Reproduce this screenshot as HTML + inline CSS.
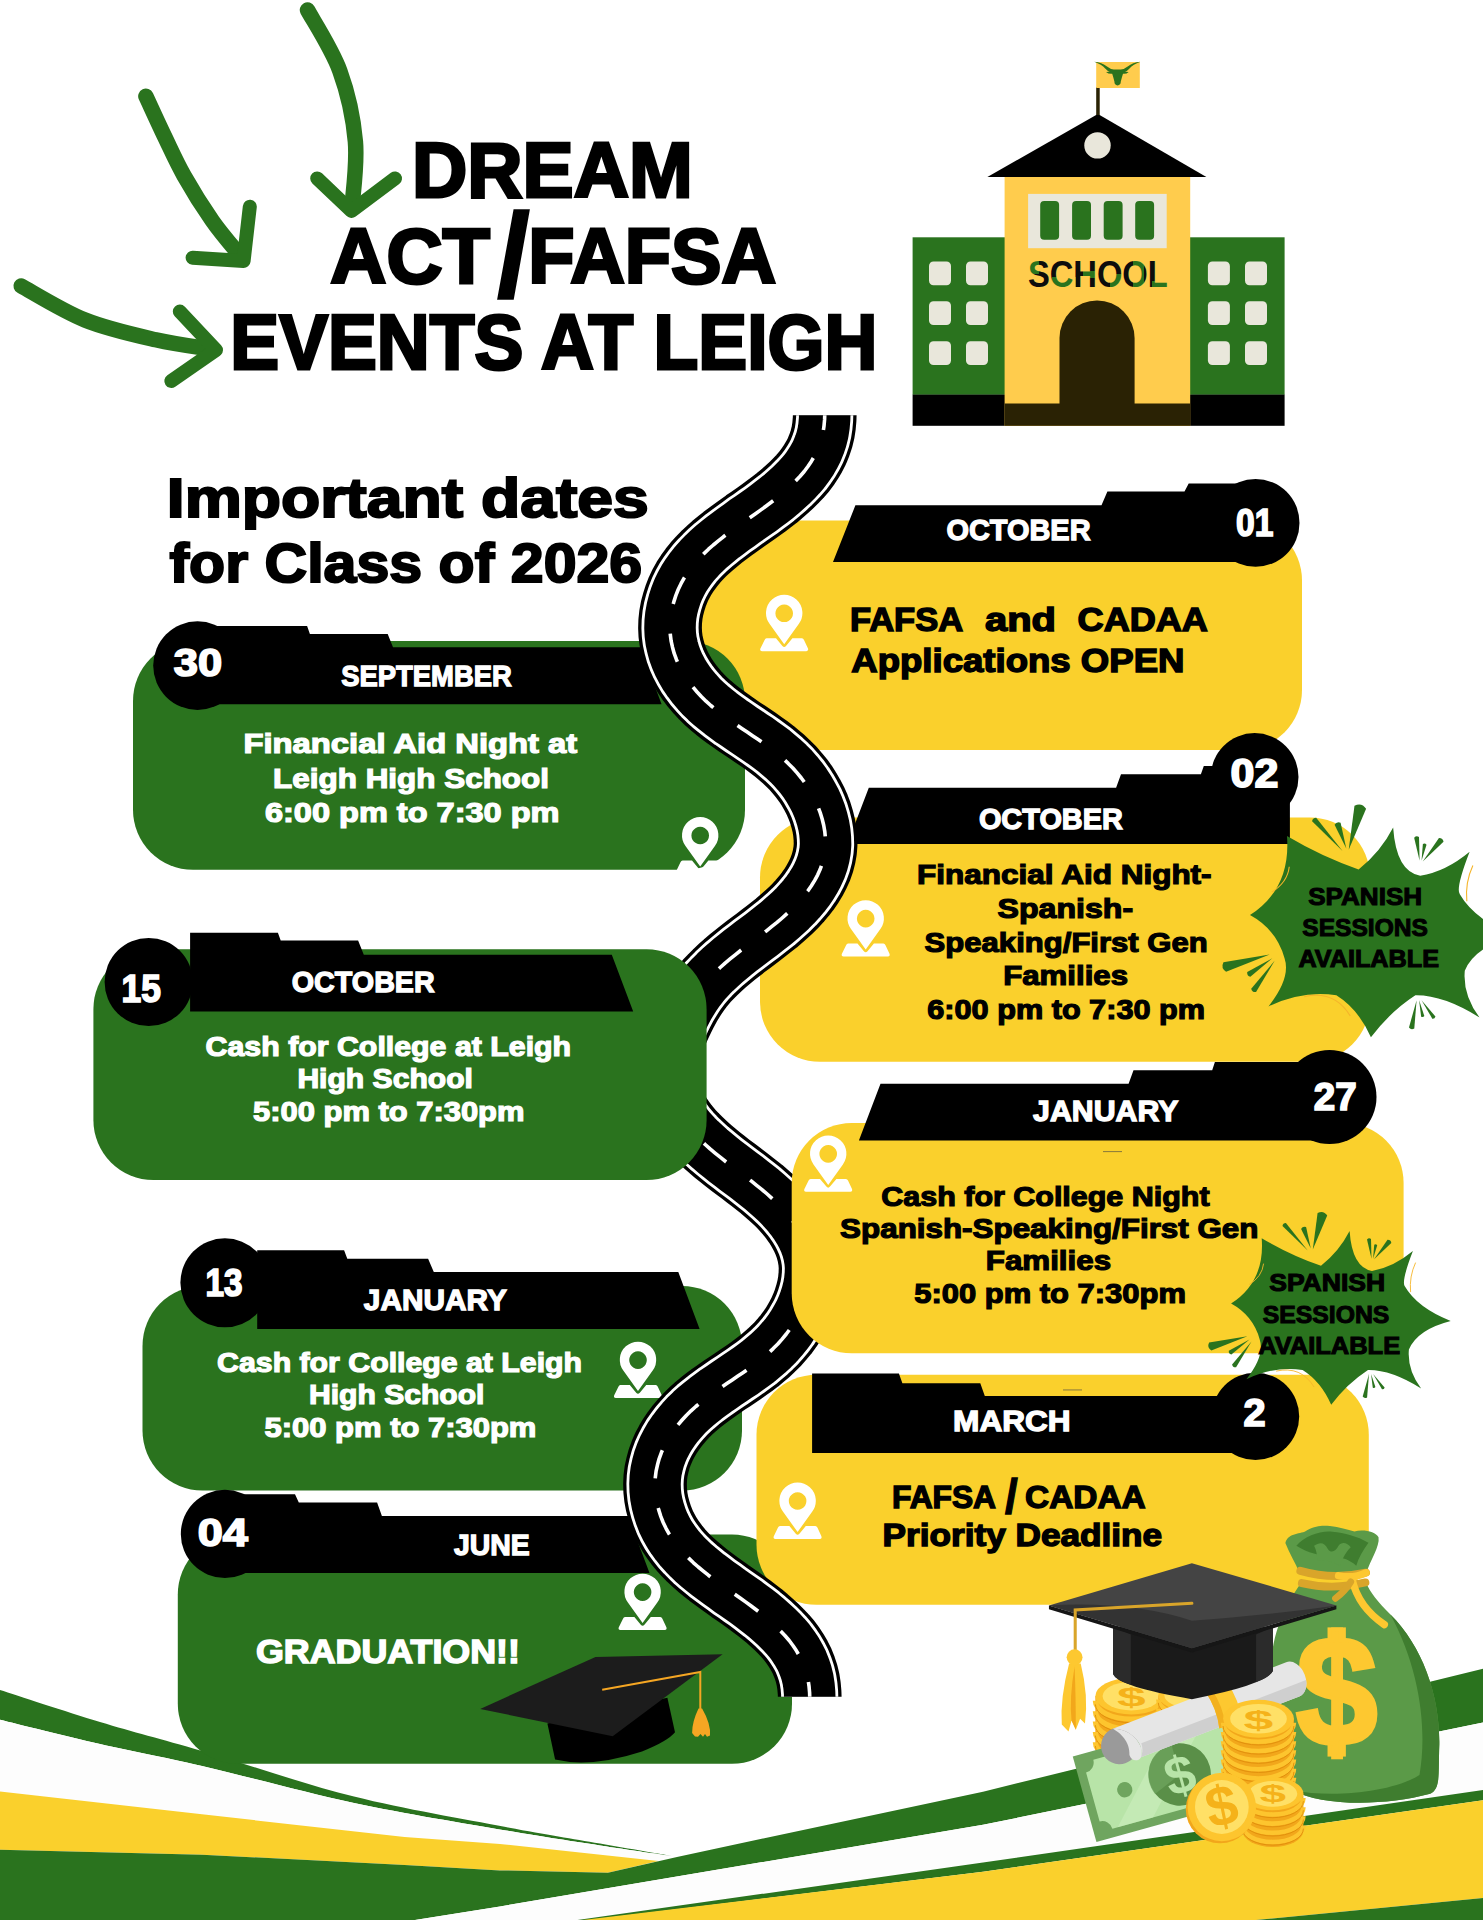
<!DOCTYPE html>
<html lang="en">
<head>
<meta charset="utf-8">
<title>Dream Act/FAFSA Events at Leigh</title>
<style>
html,body{margin:0;padding:0;background:#fff;}
body{width:1483px;height:1920px;overflow:hidden;}
svg{display:block;}
svg text{font-family:"Liberation Sans",sans-serif;}
</style>
</head>
<body>
<svg width="1483" height="1920" viewBox="0 0 1483 1920">
<defs>
<g id="pin" fill="#fff">
<path fill-rule="evenodd" d="M24.2,49.6 L38.9,29.1 A18.2,18.2 0 1 0 9.5,29.1 Z M24.2,9.8 a8.8,8.8 0 1 0 0.01,0 Z"/>
<path d="M6.6,43.6 L16,43.6 L22.4,51.3 Q24.2,53.4 26,51.3 L32.4,43.6 L41.9,43.6 Q43.3,43.7 44,45.2 L48,53.8 Q48.8,56.3 46.4,56.5 L2,56.5 Q-0.5,56.3 0.4,53.8 L4.6,45.2 Q5.2,43.7 6.6,43.6 Z"/>
</g>
<clipPath id="rclip"><rect x="560" y="415.2" width="400" height="700"/></clipPath>
<g id="road" fill="none" stroke-linejoin="round" clip-path="url(#rclip)">
<path d="M824.7,407.0 L824.8,412.5 L824.6,419.4 L824.0,426.1 L823.0,432.6 L821.5,438.8 L819.5,444.8 L817.2,450.6 L814.4,456.1 L811.3,461.4 L807.9,466.5 L804.2,471.5 L800.1,476.2 L795.8,480.8 L791.3,485.3 L786.6,489.6 L781.7,493.9 L776.7,498.0 L771.5,502.0 L766.2,506.0 L760.9,509.9 L755.5,513.7 L750.1,517.5 L744.6,521.3 L739.3,525.2 L733.9,529.0 L728.6,532.9 L723.4,536.8 L718.3,540.9 L713.3,545.0 L708.5,549.2 L703.9,553.6 L699.5,558.1 L695.2,562.8 L691.3,567.7 L687.6,572.8 L684.1,578.1 L681.0,583.7 L678.2,589.5 L675.8,595.6 L673.8,601.9 L672.1,608.3 L670.9,614.8 L670.2,621.4 L670.0,628.0 L670.3,634.5 L671.1,640.9 L672.5,647.2 L674.2,653.4 L676.4,659.4 L679.0,665.3 L682.0,671.0 L685.3,676.6 L689.0,681.9 L692.9,687.1 L697.1,692.0 L701.5,696.8 L706.0,701.2 L710.8,705.5 L715.7,709.6 L720.8,713.6 L725.9,717.4 L731.2,721.2 L736.5,724.8 L741.8,728.5 L747.2,732.1 L752.5,735.7 L757.9,739.3 L763.2,743.0 L768.4,746.8 L773.6,750.7 L778.6,754.8 L783.5,759.0 L788.2,763.4 L792.8,768.0 L797.1,772.9 L801.3,778.0 L805.2,783.3 L808.8,788.9 L812.1,794.6 L815.2,800.4 L817.9,806.5 L820.2,812.6 L822.1,818.8 L823.7,825.2 L824.8,831.6 L825.4,838.0 L825.6,844.4 L825.1,850.7 L824.0,857.0 L822.4,863.1 L820.3,869.0 L817.7,874.8 L814.7,880.4 L811.4,885.8 L807.8,891.0 L804.0,895.9 L799.9,900.7 L795.6,905.4 L791.1,909.9 L786.4,914.2 L781.6,918.5 L776.7,922.7 L771.6,926.7 L766.5,930.8 L761.3,934.8 L756.0,938.8 L750.8,942.7 L745.5,946.7 L740.3,950.7 L735.2,954.8 L730.1,958.9 L725.1,963.1 L720.2,967.5 L715.5,971.9 L711.0,976.4 L706.6,981.1 L702.5,986.0 L698.6,991.1 L695.0,996.3 L691.6,1001.7 L688.3,1007.3 L685.3,1013.0 L682.4,1018.8 L679.6,1024.7 L676.9,1030.5 L674.2,1036.4 L671.5,1042.3 L668.9,1048.1 L668.0,1050.0" stroke="#000" stroke-width="63.7"/>
<path d="M824.7,407.0 L824.8,412.5 L824.6,419.4 L824.0,426.1 L823.0,432.6 L821.5,438.8 L819.5,444.8 L817.2,450.6 L814.4,456.1 L811.3,461.4 L807.9,466.5 L804.2,471.5 L800.1,476.2 L795.8,480.8 L791.3,485.3 L786.6,489.6 L781.7,493.9 L776.7,498.0 L771.5,502.0 L766.2,506.0 L760.9,509.9 L755.5,513.7 L750.1,517.5 L744.6,521.3 L739.3,525.2 L733.9,529.0 L728.6,532.9 L723.4,536.8 L718.3,540.9 L713.3,545.0 L708.5,549.2 L703.9,553.6 L699.5,558.1 L695.2,562.8 L691.3,567.7 L687.6,572.8 L684.1,578.1 L681.0,583.7 L678.2,589.5 L675.8,595.6 L673.8,601.9 L672.1,608.3 L670.9,614.8 L670.2,621.4 L670.0,628.0 L670.3,634.5 L671.1,640.9 L672.5,647.2 L674.2,653.4 L676.4,659.4 L679.0,665.3 L682.0,671.0 L685.3,676.6 L689.0,681.9 L692.9,687.1 L697.1,692.0 L701.5,696.8 L706.0,701.2 L710.8,705.5 L715.7,709.6 L720.8,713.6 L725.9,717.4 L731.2,721.2 L736.5,724.8 L741.8,728.5 L747.2,732.1 L752.5,735.7 L757.9,739.3 L763.2,743.0 L768.4,746.8 L773.6,750.7 L778.6,754.8 L783.5,759.0 L788.2,763.4 L792.8,768.0 L797.1,772.9 L801.3,778.0 L805.2,783.3 L808.8,788.9 L812.1,794.6 L815.2,800.4 L817.9,806.5 L820.2,812.6 L822.1,818.8 L823.7,825.2 L824.8,831.6 L825.4,838.0 L825.6,844.4 L825.1,850.7 L824.0,857.0 L822.4,863.1 L820.3,869.0 L817.7,874.8 L814.7,880.4 L811.4,885.8 L807.8,891.0 L804.0,895.9 L799.9,900.7 L795.6,905.4 L791.1,909.9 L786.4,914.2 L781.6,918.5 L776.7,922.7 L771.6,926.7 L766.5,930.8 L761.3,934.8 L756.0,938.8 L750.8,942.7 L745.5,946.7 L740.3,950.7 L735.2,954.8 L730.1,958.9 L725.1,963.1 L720.2,967.5 L715.5,971.9 L711.0,976.4 L706.6,981.1 L702.5,986.0 L698.6,991.1 L695.0,996.3 L691.6,1001.7 L688.3,1007.3 L685.3,1013.0 L682.4,1018.8 L679.6,1024.7 L676.9,1030.5 L674.2,1036.4 L671.5,1042.3 L668.9,1048.1 L668.0,1050.0" stroke="#fff" stroke-width="57.1"/>
<path d="M824.7,407.0 L824.8,412.5 L824.6,419.4 L824.0,426.1 L823.0,432.6 L821.5,438.8 L819.5,444.8 L817.2,450.6 L814.4,456.1 L811.3,461.4 L807.9,466.5 L804.2,471.5 L800.1,476.2 L795.8,480.8 L791.3,485.3 L786.6,489.6 L781.7,493.9 L776.7,498.0 L771.5,502.0 L766.2,506.0 L760.9,509.9 L755.5,513.7 L750.1,517.5 L744.6,521.3 L739.3,525.2 L733.9,529.0 L728.6,532.9 L723.4,536.8 L718.3,540.9 L713.3,545.0 L708.5,549.2 L703.9,553.6 L699.5,558.1 L695.2,562.8 L691.3,567.7 L687.6,572.8 L684.1,578.1 L681.0,583.7 L678.2,589.5 L675.8,595.6 L673.8,601.9 L672.1,608.3 L670.9,614.8 L670.2,621.4 L670.0,628.0 L670.3,634.5 L671.1,640.9 L672.5,647.2 L674.2,653.4 L676.4,659.4 L679.0,665.3 L682.0,671.0 L685.3,676.6 L689.0,681.9 L692.9,687.1 L697.1,692.0 L701.5,696.8 L706.0,701.2 L710.8,705.5 L715.7,709.6 L720.8,713.6 L725.9,717.4 L731.2,721.2 L736.5,724.8 L741.8,728.5 L747.2,732.1 L752.5,735.7 L757.9,739.3 L763.2,743.0 L768.4,746.8 L773.6,750.7 L778.6,754.8 L783.5,759.0 L788.2,763.4 L792.8,768.0 L797.1,772.9 L801.3,778.0 L805.2,783.3 L808.8,788.9 L812.1,794.6 L815.2,800.4 L817.9,806.5 L820.2,812.6 L822.1,818.8 L823.7,825.2 L824.8,831.6 L825.4,838.0 L825.6,844.4 L825.1,850.7 L824.0,857.0 L822.4,863.1 L820.3,869.0 L817.7,874.8 L814.7,880.4 L811.4,885.8 L807.8,891.0 L804.0,895.9 L799.9,900.7 L795.6,905.4 L791.1,909.9 L786.4,914.2 L781.6,918.5 L776.7,922.7 L771.6,926.7 L766.5,930.8 L761.3,934.8 L756.0,938.8 L750.8,942.7 L745.5,946.7 L740.3,950.7 L735.2,954.8 L730.1,958.9 L725.1,963.1 L720.2,967.5 L715.5,971.9 L711.0,976.4 L706.6,981.1 L702.5,986.0 L698.6,991.1 L695.0,996.3 L691.6,1001.7 L688.3,1007.3 L685.3,1013.0 L682.4,1018.8 L679.6,1024.7 L676.9,1030.5 L674.2,1036.4 L671.5,1042.3 L668.9,1048.1 L668.0,1050.0" stroke="#000" stroke-width="51.5"/>
<path d="M824.7,407.0 L824.8,412.5 L824.6,419.4 L824.0,426.1 L823.0,432.6 L821.5,438.8 L819.5,444.8 L817.2,450.6 L814.4,456.1 L811.3,461.4 L807.9,466.5 L804.2,471.5 L800.1,476.2 L795.8,480.8 L791.3,485.3 L786.6,489.6 L781.7,493.9 L776.7,498.0 L771.5,502.0 L766.2,506.0 L760.9,509.9 L755.5,513.7 L750.1,517.5 L744.6,521.3 L739.3,525.2 L733.9,529.0 L728.6,532.9 L723.4,536.8 L718.3,540.9 L713.3,545.0 L708.5,549.2 L703.9,553.6 L699.5,558.1 L695.2,562.8 L691.3,567.7 L687.6,572.8 L684.1,578.1 L681.0,583.7 L678.2,589.5 L675.8,595.6 L673.8,601.9 L672.1,608.3 L670.9,614.8 L670.2,621.4 L670.0,628.0 L670.3,634.5 L671.1,640.9 L672.5,647.2 L674.2,653.4 L676.4,659.4 L679.0,665.3 L682.0,671.0 L685.3,676.6 L689.0,681.9 L692.9,687.1 L697.1,692.0 L701.5,696.8 L706.0,701.2 L710.8,705.5 L715.7,709.6 L720.8,713.6 L725.9,717.4 L731.2,721.2 L736.5,724.8 L741.8,728.5 L747.2,732.1 L752.5,735.7 L757.9,739.3 L763.2,743.0 L768.4,746.8 L773.6,750.7 L778.6,754.8 L783.5,759.0 L788.2,763.4 L792.8,768.0 L797.1,772.9 L801.3,778.0 L805.2,783.3 L808.8,788.9 L812.1,794.6 L815.2,800.4 L817.9,806.5 L820.2,812.6 L822.1,818.8 L823.7,825.2 L824.8,831.6 L825.4,838.0 L825.6,844.4 L825.1,850.7 L824.0,857.0 L822.4,863.1 L820.3,869.0 L817.7,874.8 L814.7,880.4 L811.4,885.8 L807.8,891.0 L804.0,895.9 L799.9,900.7 L795.6,905.4 L791.1,909.9 L786.4,914.2 L781.6,918.5 L776.7,922.7 L771.6,926.7 L766.5,930.8 L761.3,934.8 L756.0,938.8 L750.8,942.7 L745.5,946.7 L740.3,950.7 L735.2,954.8 L730.1,958.9 L725.1,963.1 L720.2,967.5 L715.5,971.9 L711.0,976.4 L706.6,981.1 L702.5,986.0 L698.6,991.1 L695.0,996.3 L691.6,1001.7 L688.3,1007.3 L685.3,1013.0 L682.4,1018.8 L679.6,1024.7 L676.9,1030.5 L674.2,1036.4 L671.5,1042.3 L668.9,1048.1 L668.0,1050.0" stroke="#fff" stroke-width="3.6" stroke-dasharray="29 30" stroke-dashoffset="6"/>
</g>
<g id="star">
<path fill="#2a731e" d="M0,0 Q34,-22 30.6,-65.4 Q60,-48 89.9,-37.8 Q108,-52 118.5,-72.5 Q121,-36 140.9,-32.6 Q162,-36 181.8,-52.5 Q170,-22 173.7,-17.3 Q186,4 219.6,17.4 Q186,26 177.8,46 Q176,66 190,84.8 Q160,66 136.9,66.4 Q116,80 100.1,101.2 Q90,78 71.5,66.4 Q44,62 15.3,75.6 Q34,52 28.6,35.8 Q22,12 0,0 Z"/>
<g fill="#2a731e"><path d="M76.6,-53.1 L54.8,-80.6 Q51.7,-80.6 51.4,-77.6 Z"/><path d="M79.7,-55.1 L75.0,-76.5 Q71.7,-77.8 70.0,-74.7 Z"/><path d="M81.7,-54.1 L96.1,-88.0 Q92.5,-93.6 86.5,-90.6 Z"/><path d="M140.4,-44.9 L139.9,-64.6 Q137.7,-66.1 135.9,-64.0 Z"/><path d="M142.0,-44.9 L146.1,-58.3 Q144.9,-59.9 143.1,-58.9 Z"/><path d="M143.0,-44.3 L160.2,-60.7 Q159.8,-64.0 156.4,-63.9 Z"/><path d="M16.3,32.7 L-22.0,39.0 Q-24.4,43.9 -19.8,46.8 Z"/><path d="M18.4,35.8 L-2.3,47.2 Q-2.7,50.3 0.3,51.0 Z"/><path d="M20.4,37.8 L1.0,60.9 Q1.7,64.1 5.0,63.7 Z"/><path d="M137.9,70.5 L131.6,93.0 Q133.4,95.4 136.0,93.8 Z"/><path d="M140.0,70.5 L141.7,84.1 Q143.3,84.9 144.3,83.5 Z"/><path d="M142.0,70.5 L150.9,85.7 Q153.0,86.0 153.5,83.9 Z"/></g>
<g fill="none" stroke="#f5b52a" stroke-width="0.9">
<path d="M32.500,-40 Q31,-27 18,-19"/>
<path d="M184.500,-41 Q178,-27 179.500,-11.500"/>
<path d="M45,67.5 Q70,62 83,83.500"/>
</g>
</g>
</defs>
<path fill="#2a731e" d="M0.0,1690.0 C16.7,1695.3 66.3,1711.8 100.0,1722.0 C133.7,1732.2 159.7,1738.6 202.0,1751.0 C244.3,1763.4 303.4,1783.9 354.0,1796.6 C404.6,1809.3 464.8,1819.2 505.8,1827.0 C546.8,1834.8 571.5,1838.5 600.0,1843.5 C628.5,1848.5 664.2,1854.7 677.0,1856.9 L677.0,1856.9 C664.2,1855.0 628.5,1849.9 600.0,1845.5 C571.5,1841.1 547.0,1837.6 506.0,1830.5 C465.0,1823.4 404.7,1813.8 354.0,1803.0 C303.3,1792.2 244.3,1775.8 202.0,1766.0 C159.7,1756.2 133.7,1751.7 100.0,1744.0 C66.3,1736.3 16.7,1723.8 0.0,1719.7 Z"/>
<path fill="#fdfdfd" d="M0.0,1719.7 C16.7,1723.8 66.3,1736.3 100.0,1744.0 C133.7,1751.7 159.7,1756.2 202.0,1766.0 C244.3,1775.8 303.3,1792.2 354.0,1803.0 C404.7,1813.8 465.0,1823.4 506.0,1830.5 C547.0,1837.6 571.5,1841.1 600.0,1845.5 C628.5,1849.9 664.2,1855.0 677.0,1856.9 L658.5,1861 L500,1844 L404.6,1837 L202,1814.3 L0,1791.5 Z"/>
<path fill="#fad02c" d="M0,1791.5 L202,1814.3 L404.6,1837 L500,1844 L658.5,1861 L607.9,1872.7 L500,1870.4 L404.6,1864.9 L202,1854.7 L0,1849.7 Z"/>
<path fill="#2a731e" d="M0,1849.7 L202,1854.7 L404.6,1864.9 L500,1870.4 L607.9,1872.7 L677,1856.9 L983,1791.7 L1483,1668.7 L1483,1722.6 L983,1824.8 L736,1866.6 L500,1906.4 L415,1920 L0,1920 Z"/>
<path fill="#fdfdfd" d="M415,1920 L500,1906.4 L736,1866.6 L983,1824.8 L1483,1722.6 L1483,1790 L983,1862.6 L577.5,1920 Z"/>
<path fill="#2a731e" d="M577.5,1920 L983,1862.6 L1483,1790 L1483,1800.2 L983,1871.7 L590,1920 Z"/>
<path fill="#fad02c" d="M583,1920 L983,1871.7 L1483,1800.2 L1483,1898 L1256,1920 Z"/>
<path fill="#2a731e" d="M1256,1920 L1483,1898 L1483,1920 Z"/>
<g fill="none" stroke="#2a731e" stroke-width="15.5" stroke-linecap="round" stroke-linejoin="round">
<path d="M307.5,10.0 C312.9,20.1 331.8,48.9 339.8,70.8 C347.8,92.7 353.4,118.9 355.4,141.6 C357.4,164.3 352.6,196.1 352.0,207.0"/>
<path stroke-width="14" d="M317.2,178.4 L351.5,211 L395,178.4"/>
<path d="M145.9,96.3 C149.0,102.9 158.0,122.7 164.3,135.9 C170.7,149.1 176.0,161.4 184.0,175.6 C192.0,189.8 203.0,207.4 212.4,220.9 C221.8,234.4 236.0,250.4 240.7,256.3"/>
<path stroke-width="14" d="M192.6,257.7 L243.6,261 L249.8,206.7"/>
<path d="M21.2,286.0 C31.8,291.7 62.6,311.0 85.0,320.0 C107.4,329.0 134.5,334.9 155.8,339.8 C177.1,344.7 203.5,347.9 213.0,349.5"/>
<path stroke-width="14" d="M179.8,311.5 L216,350 L171.3,380.9"/>
</g>
<g font-weight="bold">
<text x="412.0" y="196.6" font-size="77.8" fill="#000" stroke="#000" stroke-width="3" textLength="280.8" lengthAdjust="spacingAndGlyphs" >DREAM</text>
<text fill="#000" stroke="#000"><tspan x="330.3" y="282.9" font-size="77.8" stroke-width="3" textLength="159.6" lengthAdjust="spacingAndGlyphs">ACT</tspan><tspan x="498.1" y="296.2" font-size="117.4" stroke-width="3.5" textLength="31.0" lengthAdjust="spacingAndGlyphs">/</tspan><tspan x="528.2" y="282.9" font-size="77.8" stroke-width="3" textLength="248.0" lengthAdjust="spacingAndGlyphs">FAFSA</tspan></text>
<text x="230.3" y="369.1" font-size="77.8" fill="#000" stroke="#000" stroke-width="3" textLength="647.1" lengthAdjust="spacingAndGlyphs" >EVENTS AT LEIGH</text>
<text x="166.8" y="516.9" font-size="54.7" fill="#000" stroke="#000" stroke-width="2" textLength="482.0" lengthAdjust="spacingAndGlyphs" >Important dates</text>
<text x="169.4" y="581.5" font-size="54.7" fill="#000" stroke="#000" stroke-width="2" textLength="472.8" lengthAdjust="spacingAndGlyphs" >for Class of 2026</text>
</g>
<g font-weight="bold"><rect x="912.6" y="237.3" width="372" height="157.500" fill="#2a731e"/>
<rect x="912.6" y="394.600" width="372" height="31.200" fill="#000"/>
<rect x="1004.6" y="176" width="185.6" height="250" fill="#ffcc4d"/>
<rect x="1004.6" y="403.500" width="185.6" height="22.300" fill="#2a2204"/>
<path d="M1059.500,404 L1059.500,338 A37.5,37.5 0 0 1 1134.600,338 L1134.600,404 Z" fill="#2a2204"/>
<polygon points="987.4,177 1097.9,114 1206.4,177" fill="#000"/>
<circle cx="1097.5" cy="145.400" r="13.2" fill="#e9e7db"/>
<rect x="1096.2" y="87" width="3.5" height="28" fill="#2a2204"/>
<rect x="1096.2" y="62" width="43.6" height="26" fill="#ffcc4d"/>
<path fill="#2a731e" d="M1094.2,61.8 Q1102,62.5 1107,66.5 Q1110.5,69.3 1113.8,69.5 L1120.9,69.5 Q1124.2,69.3 1127.7,66.5 Q1132.7,62.5 1140.4,61.8 Q1133,64.5 1129.5,68.5 Q1127,71.3 1125,71.8 L1128.7,72 Q1126.5,74.2 1123,73.8 L1122,77 L1120.8,81.5 Q1120.8,85.2 1117.6,85.4 Q1114.4,85.2 1114.4,81.5 L1113.2,77 L1112.2,73.8 Q1108.700,74.2 1106,72 L1109.700,71.8 Q1107.700,71.3 1105.2,68.5 Q1101.700,64.5 1094.2,61.8 Z"/>
<rect x="1028.1" y="193.900" width="138.6" height="54.300" fill="#e9e7db"/>
<rect x="1040.2" y="201" width="18.9" height="38.800" rx="4" fill="#2a731e"/>
<rect x="1072.1" y="201" width="18.9" height="38.800" rx="4" fill="#2a731e"/>
<rect x="1103.7" y="201" width="18.9" height="38.800" rx="4" fill="#2a731e"/>
<rect x="1135.2" y="201" width="18.9" height="38.800" rx="4" fill="#2a731e"/>
<rect x="929" y="261.5" width="22" height="23.800" rx="4.5" fill="#e9e7db"/>
<rect x="929" y="301.3" width="22" height="23.800" rx="4.5" fill="#e9e7db"/>
<rect x="929" y="341.2" width="22" height="23.800" rx="4.5" fill="#e9e7db"/>
<rect x="966" y="261.5" width="22" height="23.800" rx="4.5" fill="#e9e7db"/>
<rect x="966" y="301.3" width="22" height="23.800" rx="4.5" fill="#e9e7db"/>
<rect x="966" y="341.2" width="22" height="23.800" rx="4.5" fill="#e9e7db"/>
<rect x="1207.9" y="261.5" width="22" height="23.800" rx="4.5" fill="#e9e7db"/>
<rect x="1207.9" y="301.3" width="22" height="23.800" rx="4.5" fill="#e9e7db"/>
<rect x="1207.9" y="341.2" width="22" height="23.800" rx="4.5" fill="#e9e7db"/>
<rect x="1245" y="261.5" width="22" height="23.800" rx="4.5" fill="#e9e7db"/>
<rect x="1245" y="301.3" width="22" height="23.800" rx="4.5" fill="#e9e7db"/>
<rect x="1245" y="341.2" width="22" height="23.800" rx="4.5" fill="#e9e7db"/>
<pattern id="schp" patternUnits="userSpaceOnUse" x="1020" y="255" width="160" height="40"><rect width="160" height="40" fill="#0d0d0d"/><g fill="#2a731e"><rect x="7" y="6" width="12" height="13"/><rect x="32" y="22" width="24" height="12"/><rect x="63" y="16" width="14" height="7"/><rect x="90" y="19" width="12" height="15"/><rect x="113" y="6" width="11" height="28"/><rect x="132" y="26" width="16" height="8"/></g></pattern>
<text x="1027.9" y="287.2" font-size="36.2" fill="url(#schp)" textLength="139.9" lengthAdjust="spacingAndGlyphs" >SCHOOL</text></g>
<g font-weight="bold">
<rect x="700.0" y="520.4" width="602.0" height="229.6" rx="60" ry="60" fill="#fad02c"/>
<polygon points="833.0,562.1 855.4,505.3 1101.5,505.3 1107.4,491.6 1184.5,491.6 1188.7,483.4 1256.0,483.4 1256.0,562.1" fill="#000"/>
<circle cx="1255.6" cy="522.9" r="43.9" fill="#000"/>
<text x="946.4" y="540.0" font-size="30.1" fill="#fff" stroke="#fff" stroke-width="1.32" textLength="144.2" lengthAdjust="spacingAndGlyphs" >OCTOBER</text>
<text x="1236.0" y="535.5" font-size="39.5" fill="#fff" stroke="#fff" stroke-width="1.73" textLength="37.3" lengthAdjust="spacingAndGlyphs" >01</text>
<use href="#pin" transform="translate(760.0,594.7) scale(1.0)"/>
<text fill="#000" stroke="#000"><tspan x="850.0" y="631.2" font-size="32.9" stroke-width="1.45" textLength="121.4" lengthAdjust="spacingAndGlyphs">FAFSA </tspan><tspan x="985.0" y="631.2" font-size="32.9" stroke-width="1.45" textLength="82.1" lengthAdjust="spacingAndGlyphs">and </tspan><tspan x="1077.6" y="631.2" font-size="32.9" stroke-width="1.45" textLength="130.3" lengthAdjust="spacingAndGlyphs">CADAA</tspan></text>
<text x="851.3" y="671.8" font-size="32.9" fill="#000" stroke="#000" stroke-width="1.45" textLength="333.2" lengthAdjust="spacingAndGlyphs" >Applications OPEN</text>
<rect x="133.0" y="641.0" width="612.0" height="228.7" rx="60" ry="60" fill="#2a731e"/>
<polygon points="197.5,625.9 307.1,625.9 309.9,634.0 387.7,634.0 393.0,647.2 640.2,647.2 661.6,704.2 197.5,704.2" fill="#000"/>
<circle cx="197.5" cy="665.6" r="44.3" fill="#000"/>
<text x="173.8" y="675.6" font-size="39.1" fill="#fff" stroke="#fff" stroke-width="1.72" textLength="48.4" lengthAdjust="spacingAndGlyphs" >30</text>
<text x="341.2" y="685.6" font-size="30.1" fill="#fff" stroke="#fff" stroke-width="1.32" textLength="170.6" lengthAdjust="spacingAndGlyphs" >SEPTEMBER</text>
<text x="243.5" y="752.6" font-size="28.3" fill="#fff" stroke="#fff" stroke-width="1.24" textLength="333.7" lengthAdjust="spacingAndGlyphs" >Financial Aid Night at</text>
<text x="273.1" y="787.6" font-size="28.3" fill="#fff" stroke="#fff" stroke-width="1.24" textLength="275.9" lengthAdjust="spacingAndGlyphs" >Leigh High School</text>
<text x="264.9" y="822.4" font-size="28.3" fill="#fff" stroke="#fff" stroke-width="1.24" textLength="294.6" lengthAdjust="spacingAndGlyphs" >6:00 pm to 7:30 pm</text>
<use href="#pin" transform="translate(676.0,816.9) scale(1.0)"/>
<rect x="760.0" y="817.5" width="610.0" height="244.3" rx="60" ry="60" fill="#fad02c"/>
<polygon points="847.3,844.0 868.8,787.8 1116.1,787.8 1121.0,774.3 1200.9,774.3 1203.8,766.0 1254.6,766.0 1289.9,790.0 1289.9,844.0" fill="#000"/>
<circle cx="1254.6" cy="777.0" r="43.9" fill="#000"/>
<text x="978.9" y="828.9" font-size="29.8" fill="#fff" stroke="#fff" stroke-width="1.31" textLength="144.0" lengthAdjust="spacingAndGlyphs" >OCTOBER</text>
<text x="1230.5" y="787.0" font-size="39.9" fill="#fff" stroke="#fff" stroke-width="1.75" textLength="47.8" lengthAdjust="spacingAndGlyphs" >02</text>
<use href="#pin" transform="translate(841.5,900.0) scale(1.0)"/>
<text x="917.1" y="884.4" font-size="28.3" fill="#000" stroke="#000" stroke-width="1.24" textLength="294.5" lengthAdjust="spacingAndGlyphs" >Financial Aid Night-</text>
<text x="997.6" y="917.9" font-size="28.3" fill="#000" stroke="#000" stroke-width="1.24" textLength="135.5" lengthAdjust="spacingAndGlyphs" >Spanish-</text>
<text x="924.6" y="951.8" font-size="28.3" fill="#000" stroke="#000" stroke-width="1.24" textLength="283.2" lengthAdjust="spacingAndGlyphs" >Speaking/First Gen</text>
<text x="1003.2" y="985.1" font-size="28.3" fill="#000" stroke="#000" stroke-width="1.24" textLength="124.9" lengthAdjust="spacingAndGlyphs" >Families</text>
<text x="927.3" y="1019.0" font-size="28.3" fill="#000" stroke="#000" stroke-width="1.24" textLength="277.7" lengthAdjust="spacingAndGlyphs" >6:00 pm to 7:30 pm</text>
<use href="#road"/>
<rect x="142.5" y="1285.9" width="599.5" height="204.7" rx="60" ry="60" fill="#2a731e"/>
<polygon points="257.2,1250.2 344.1,1250.2 347.3,1258.7 428.1,1258.7 433.8,1271.9 678.3,1271.9 699.6,1329.1 257.2,1329.1" fill="#000"/>
<circle cx="224.9" cy="1282.8" r="44.5" fill="#000"/>
<text x="205.5" y="1296.1" font-size="39.5" fill="#fff" stroke="#fff" stroke-width="1.73" textLength="37.0" lengthAdjust="spacingAndGlyphs" >13</text>
<text x="363.8" y="1309.6" font-size="30.1" fill="#fff" stroke="#fff" stroke-width="1.32" textLength="143.0" lengthAdjust="spacingAndGlyphs" >JANUARY</text>
<text x="217.1" y="1372.0" font-size="28.3" fill="#fff" stroke="#fff" stroke-width="1.24" textLength="365.0" lengthAdjust="spacingAndGlyphs" >Cash for College at Leigh</text>
<text x="308.9" y="1404.1" font-size="28.3" fill="#fff" stroke="#fff" stroke-width="1.24" textLength="175.6" lengthAdjust="spacingAndGlyphs" >High School</text>
<text x="264.5" y="1437.4" font-size="28.3" fill="#fff" stroke="#fff" stroke-width="1.24" textLength="271.9" lengthAdjust="spacingAndGlyphs" >5:00 pm to 7:30pm</text>
<use href="#pin" transform="translate(613.8,1341.5) scale(1.0)"/>
<rect x="177.8" y="1534.5" width="614.2" height="229.2" rx="60" ry="60" fill="#2a731e"/>
<polygon points="224.9,1494.2 295.0,1494.2 298.8,1502.5 377.1,1502.5 381.9,1515.9 628.0,1515.9 649.5,1572.9 224.9,1572.9" fill="#000"/>
<circle cx="224.9" cy="1533.9" r="44.1" fill="#000"/>
<text x="197.7" y="1545.7" font-size="38.8" fill="#fff" stroke="#fff" stroke-width="1.7" textLength="50.1" lengthAdjust="spacingAndGlyphs" >04</text>
<text x="453.9" y="1554.7" font-size="30.1" fill="#fff" stroke="#fff" stroke-width="1.32" textLength="75.9" lengthAdjust="spacingAndGlyphs" >JUNE</text>
<text x="255.9" y="1662.9" font-size="33.6" fill="#fff" stroke="#fff" stroke-width="1.48" textLength="264.1" lengthAdjust="spacingAndGlyphs" >GRADUATION!!</text>
<use href="#pin" transform="translate(618.4,1573.5) scale(1.0)"/>
<path fill="#000" d="M547.4,1723.5 L555.1,1759.5 Q591,1768 642,1751.400 Q668,1741 675,1732.200 L667.4,1697.800 Z"/>
<polygon fill="#1c1c1c" points="480.2,1708.900 595.5,1656.900 722.6,1654.300 612.7,1736.200"/>
<path fill="none" stroke="#f5a623" stroke-width="2" d="M602.2,1689.700 L700.3,1671.900 L700.3,1710"/>
<path fill="#f5a623" d="M698.5,1708.500 L702.100,1708.500 Q711,1724 710,1735.500 L707,1736.800 L705,1734 L703,1736.800 L700.500,1734 L698,1736.800 L695,1736.500 L692.100,1733 Q692,1722 698.5,1708.500 Z"/>
<rect x="756.5" y="1374.7" width="612.3" height="230.1" rx="60" ry="60" fill="#fad02c"/>
<polygon points="812.1,1373.4 898.9,1373.4 902.4,1383.2 980.3,1383.2 984.8,1395.9 1255.5,1395.9 1255.5,1452.9 812.1,1452.9" fill="#000"/>
<circle cx="1255.5" cy="1416.4" r="43.7" fill="#000"/>
<text x="953.1" y="1430.5" font-size="30.1" fill="#fff" stroke="#fff" stroke-width="1.32" textLength="117.6" lengthAdjust="spacingAndGlyphs" >MARCH</text>
<text x="1243.4" y="1426.1" font-size="39.5" fill="#fff" stroke="#fff" stroke-width="1.73" textLength="22.1" lengthAdjust="spacingAndGlyphs" >2</text>
<use href="#pin" transform="translate(773.4,1482.4) scale(1.0)"/>
<text fill="#000" stroke="#000"><tspan x="892.0" y="1508.1" font-size="30.7" stroke-width="1.35" textLength="111.7" lengthAdjust="spacingAndGlyphs">FAFSA </tspan><tspan x="1005.0" y="1513.3" font-size="48.0" stroke-width="1.3" textLength="25.4" lengthAdjust="spacingAndGlyphs">/ </tspan><tspan x="1025.0" y="1508.1" font-size="30.7" stroke-width="1.35" textLength="120.7" lengthAdjust="spacingAndGlyphs">CADAA</tspan></text>
<text x="882.6" y="1546.2" font-size="31.1" fill="#000" stroke="#000" stroke-width="1.37" textLength="279.6" lengthAdjust="spacingAndGlyphs" >Priority Deadline</text>
<rect x="1063" y="1389.5" width="19" height="0.9" fill="#444" opacity="0.7"/>
<use href="#road" transform="translate(-15,2112) scale(1,-1)"/>
<rect x="93.4" y="949.2" width="613.2" height="230.8" rx="60" ry="60" fill="#2a731e"/>
<polygon points="190.1,932.7 277.9,932.7 280.7,940.6 358.1,940.6 363.8,954.8 611.8,954.8 633.2,1011.6 190.1,1011.6" fill="#000"/>
<circle cx="148.7" cy="982.0" r="44.1" fill="#000"/>
<text x="121.6" y="1002.0" font-size="39.2" fill="#fff" stroke="#fff" stroke-width="1.72" textLength="39.3" lengthAdjust="spacingAndGlyphs" >15</text>
<text x="291.8" y="991.6" font-size="30.1" fill="#fff" stroke="#fff" stroke-width="1.32" textLength="142.9" lengthAdjust="spacingAndGlyphs" >OCTOBER</text>
<text x="205.6" y="1055.9" font-size="28.3" fill="#fff" stroke="#fff" stroke-width="1.24" textLength="365.5" lengthAdjust="spacingAndGlyphs" >Cash for College at Leigh</text>
<text x="297.4" y="1088.3" font-size="28.3" fill="#fff" stroke="#fff" stroke-width="1.24" textLength="175.5" lengthAdjust="spacingAndGlyphs" >High School</text>
<text x="253.1" y="1121.2" font-size="28.3" fill="#fff" stroke="#fff" stroke-width="1.24" textLength="271.4" lengthAdjust="spacingAndGlyphs" >5:00 pm to 7:30pm</text>
<rect x="791.7" y="1123.0" width="611.9" height="230.3" rx="60" ry="60" fill="#fad02c"/>
<polygon points="858.9,1140.4 880.5,1083.7 1128.6,1083.7 1133.5,1070.2 1212.2,1070.2 1214.9,1062.1 1330.0,1062.1 1330.0,1140.4" fill="#000"/>
<circle cx="1329.5" cy="1097.0" r="47.0" fill="#000"/>
<text x="1033.1" y="1120.8" font-size="29.8" fill="#fff" stroke="#fff" stroke-width="1.31" textLength="145.3" lengthAdjust="spacingAndGlyphs" >JANUARY</text>
<text x="1313.8" y="1109.9" font-size="39.5" fill="#fff" stroke="#fff" stroke-width="1.73" textLength="42.9" lengthAdjust="spacingAndGlyphs" >27</text>
<use href="#pin" transform="translate(804.0,1135.3) scale(1.0)"/>
<text x="881.3" y="1205.7" font-size="28.3" fill="#000" stroke="#000" stroke-width="1.24" textLength="328.3" lengthAdjust="spacingAndGlyphs" >Cash for College Night</text>
<text x="840.1" y="1237.9" font-size="28.3" fill="#000" stroke="#000" stroke-width="1.24" textLength="418.4" lengthAdjust="spacingAndGlyphs" >Spanish-Speaking/First Gen</text>
<text x="985.8" y="1270.3" font-size="28.3" fill="#000" stroke="#000" stroke-width="1.24" textLength="125.3" lengthAdjust="spacingAndGlyphs" >Families</text>
<text x="914.3" y="1302.5" font-size="28.3" fill="#000" stroke="#000" stroke-width="1.24" textLength="271.6" lengthAdjust="spacingAndGlyphs" >5:00 pm to 7:30pm</text>
<rect x="1103" y="1151.2" width="19" height="0.9" fill="#444" opacity="0.7"/>
<use href="#star" transform="translate(1250,915.1) scale(1.208)"/>
<text x="1308.2" y="904.5" font-size="24.2" fill="#000" stroke="#000" stroke-width="1.06" textLength="113.9" lengthAdjust="spacingAndGlyphs" >SPANISH</text>
<text x="1302.3" y="935.5" font-size="24.2" fill="#000" stroke="#000" stroke-width="1.06" textLength="125.6" lengthAdjust="spacingAndGlyphs" >SESSIONS</text>
<text x="1298.4" y="967.0" font-size="24.2" fill="#000" stroke="#000" stroke-width="1.06" textLength="140.6" lengthAdjust="spacingAndGlyphs" >AVAILABLE</text>
<use href="#star" transform="translate(1231.1,1303.6)"/>
<text x="1269.2" y="1290.8" font-size="24.0" fill="#000" stroke="#000" stroke-width="1.06" textLength="116.0" lengthAdjust="spacingAndGlyphs" >SPANISH</text>
<text x="1262.8" y="1322.5" font-size="24.0" fill="#000" stroke="#000" stroke-width="1.06" textLength="126.6" lengthAdjust="spacingAndGlyphs" >SESSIONS</text>
<text x="1258.2" y="1354.2" font-size="24.0" fill="#000" stroke="#000" stroke-width="1.06" textLength="142.0" lengthAdjust="spacingAndGlyphs" >AVAILABLE</text>
</g>
<g transform="translate(1030,1500) scale(0.30547)">
<path fill="#5b9a48" d="M885,275 C840,340 790,430 788,560 C775,760 790,900 860,950 C950,1000 1150,1005 1310,962 C1345,945 1336,900 1340,800 C1342,640 1285,480 1180,375 C1140,335 1112,300 1100,270 Z"/>
<path fill="#3f7d2f" d="M1180,375 C1285,480 1342,640 1340,800 C1336,900 1345,945 1310,962 C1150,1005 950,1000 860,950 C980,975 1180,960 1275,900 C1300,760 1280,560 1180,375 Z"/>
<path fill="#5b9a48" d="M883,240 C868,205 848,172 836,141 C846,104 888,114 907,99 C938,82 960,83 982,85 C1012,88 1040,98 1062,103 C1092,95 1132,104 1141,122 C1146,152 1114,196 1101,240 Z"/>
<path fill="#3f7d2f" d="M872,150 C900,118 950,100 990,104 C1030,108 1070,118 1108,140 C1090,165 1075,190 1068,215 C1040,190 1010,185 985,190 C950,180 910,175 872,150 Z"/>
<path fill="#5b9a48" d="M930,150 C950,135 965,140 975,160 C985,175 1000,170 1010,150 C1020,135 1040,140 1050,155 C1030,175 1020,200 1015,215 C990,200 960,195 940,200 C940,180 938,165 930,150 Z"/>
<path fill="none" stroke="#d9a52a" stroke-width="26" stroke-linecap="round" d="M885,232 Q990,262 1100,238"/>
<path fill="none" stroke="#d9a52a" stroke-width="26" stroke-linecap="round" d="M890,272 Q990,296 1098,270"/>
<path fill="none" stroke="#fdc830" stroke-width="24" stroke-linecap="round" d="M1010,248 Q1060,258 1100,238"/>
<path fill="none" stroke="#fdc830" stroke-width="24" stroke-linecap="round" d="M1055,262 Q1075,350 1160,408"/>
<path fill="none" stroke="#d9a52a" stroke-width="22" stroke-linecap="round" d="M1050,268 Q1030,300 1000,322"/>
<rect x="974" y="417" width="60" height="70" fill="#fdc830"/><rect x="974" y="770" width="60" height="70" fill="#fdc830"/>
<text transform="translate(1004,803) scale(0.94,1)" text-anchor="middle" font-size="510" font-weight="bold" fill="#fdc830" stroke="#fdc830" stroke-width="14">$</text>
<path fill="#f2a71b" d="M214,642 L214,812 A118,60 0 0 0 450,812 L450,642 Z"/>
<path fill="none" stroke="#fdc52e" stroke-width="17.0" d="M214,793.3 A118,60 0 0 0 450,793.3"/>
<path fill="none" stroke="#e08e0b" stroke-width="3" d="M214,805.2 A118,60 0 0 0 450,805.2"/>
<path fill="none" stroke="#fdc52e" stroke-width="17.0" d="M214,759.3 A118,60 0 0 0 450,759.3"/>
<path fill="none" stroke="#e08e0b" stroke-width="3" d="M214,771.2 A118,60 0 0 0 450,771.2"/>
<path fill="none" stroke="#fdc52e" stroke-width="17.0" d="M214,725.3 A118,60 0 0 0 450,725.3"/>
<path fill="none" stroke="#e08e0b" stroke-width="3" d="M214,737.2 A118,60 0 0 0 450,737.2"/>
<path fill="none" stroke="#fdc52e" stroke-width="17.0" d="M214,691.3 A118,60 0 0 0 450,691.3"/>
<path fill="none" stroke="#e08e0b" stroke-width="3" d="M214,703.2 A118,60 0 0 0 450,703.2"/>
<path fill="none" stroke="#fdc52e" stroke-width="17.0" d="M214,657.3 A118,60 0 0 0 450,657.3"/>
<path fill="none" stroke="#e08e0b" stroke-width="3" d="M214,669.2 A118,60 0 0 0 450,669.2"/>
<ellipse cx="332" cy="642" rx="118" ry="60" fill="#fdc52e"/>
<ellipse cx="332" cy="642" rx="94.4" ry="46.8" fill="#ffe066"/>
<text transform="translate(332,673.2) scale(1.25,0.62)" text-anchor="middle" font-size="135" font-weight="bold" fill="#f5b21a">$</text>
<path fill="#f2a71b" d="M420,640 L420,700 A100,50 0 0 0 620,700 L620,640 Z"/>
<path fill="none" stroke="#fdc52e" stroke-width="15.0" d="M420,683.5 A100,50 0 0 0 620,683.5"/>
<path fill="none" stroke="#e08e0b" stroke-width="3" d="M420,694.0 A100,50 0 0 0 620,694.0"/>
<path fill="none" stroke="#fdc52e" stroke-width="15.0" d="M420,653.5 A100,50 0 0 0 620,653.5"/>
<path fill="none" stroke="#e08e0b" stroke-width="3" d="M420,664.0 A100,50 0 0 0 620,664.0"/>
<ellipse cx="520" cy="640" rx="100" ry="50" fill="#fdc52e"/>
<ellipse cx="520" cy="640" rx="80.0" ry="39.0" fill="#ffe066"/>
<g transform="translate(140,840) rotate(-15.5)">
<rect x="0" y="0" width="600" height="290" fill="#6fa55f"/>
<path fill="#b8e4a8" d="M62,28 L600,28 L600,262 L62,262 A34,34 0 0 0 28,228 L28,62 A34,34 0 0 0 62,28 Z"/>
<path fill="#cdeec0" opacity="0.55" d="M300,28 L420,28 L200,262 L80,262 Z"/>
<circle cx="322" cy="150" r="102" fill="#5a8f48"/>
<path fill="#6fa55f" opacity="0.7" d="M322,48 A102,102 0 0 0 227,190 L322,150 Z"/>
<text x="322" y="212" text-anchor="middle" font-size="175" font-weight="bold" fill="#b8e4a8">$</text>
<circle cx="135" cy="150" r="25" fill="#6fa55f"/>
</g>
<g transform="translate(300,802) rotate(-21)">
<circle cx="-8" cy="0" r="60" fill="#9a9a9a"/>
<path fill="#e6e6e6" d="M-8,-60 L600,-60 A42,60 0 0 1 600,60 L45,60 C75,20 40,-45 -8,-60 Z"/>
<path fill="#cfcfcf" d="M45,60 L600,60 A42,60 0 0 0 640,18 L62,18 C62,35 55,48 45,60 Z"/>
<path fill="#e6e6e6" d="M-8,-60 C40,-45 75,20 45,60 C30,72 10,60 12,40 C30,0 10,-40 -8,-60 Z"/>
<path fill="#fdc830" d="M318,-66 L396,-66 Q412,0 396,64 L318,64 Q334,0 318,-66 Z"/>
<path fill="#f2b01e" d="M318,-66 L340,-66 Q356,0 340,64 L318,64 Q334,0 318,-66 Z"/>
</g>
<path fill="#1a1a1a" d="M272,415 L272,570 Q290,612 530,652 Q770,606 795,560 L795,415 Z"/>
<path fill="#2b2b2b" d="M272,415 L272,570 Q280,590 330,605 L330,440 Z"/>
<path fill="#2b2b2b" d="M795,415 L795,560 Q785,580 740,596 L740,440 Z"/>
<polygon fill="#161616" points="62,345 530,485 1003,345 1003,358 530,499 62,358"/>
<polygon fill="#444444" points="62,345 530,207 1003,345 530,485"/>
<path fill="#333333" d="M62,345 Q330,330 530,395 Q760,380 1003,345 L530,485 Z"/>
<path fill="none" stroke="#d9a52a" stroke-width="10" stroke-linecap="round" d="M530,338 L148,360 L148,495"/>
<path fill="#fdc830" d="M128,535 Q98,650 104,735 L126,758 L136,722 L150,752 L164,716 L180,732 Q192,640 166,535 Z"/>
<path fill="#f2a71b" d="M146,545 Q128,650 136,722 L150,752 Q150,640 146,545 Z"/>
<circle cx="146" cy="515" r="26" fill="#fdc830"/>
<path fill="#f2a71b" d="M632,716 L632,926 A116,62 0 0 0 864,926 L864,716 Z"/>
<path fill="none" stroke="#fdc52e" stroke-width="15.0" d="M632,909.5 A116,62 0 0 0 864,909.5"/>
<path fill="none" stroke="#e08e0b" stroke-width="3" d="M632,920.0 A116,62 0 0 0 864,920.0"/>
<path fill="none" stroke="#fdc52e" stroke-width="15.0" d="M632,879.5 A116,62 0 0 0 864,879.5"/>
<path fill="none" stroke="#e08e0b" stroke-width="3" d="M632,890.0 A116,62 0 0 0 864,890.0"/>
<path fill="none" stroke="#fdc52e" stroke-width="15.0" d="M632,849.5 A116,62 0 0 0 864,849.5"/>
<path fill="none" stroke="#e08e0b" stroke-width="3" d="M632,860.0 A116,62 0 0 0 864,860.0"/>
<path fill="none" stroke="#fdc52e" stroke-width="15.0" d="M632,819.5 A116,62 0 0 0 864,819.5"/>
<path fill="none" stroke="#e08e0b" stroke-width="3" d="M632,830.0 A116,62 0 0 0 864,830.0"/>
<path fill="none" stroke="#fdc52e" stroke-width="15.0" d="M632,789.5 A116,62 0 0 0 864,789.5"/>
<path fill="none" stroke="#e08e0b" stroke-width="3" d="M632,800.0 A116,62 0 0 0 864,800.0"/>
<path fill="none" stroke="#fdc52e" stroke-width="15.0" d="M632,759.5 A116,62 0 0 0 864,759.5"/>
<path fill="none" stroke="#e08e0b" stroke-width="3" d="M632,770.0 A116,62 0 0 0 864,770.0"/>
<path fill="none" stroke="#fdc52e" stroke-width="15.0" d="M632,729.5 A116,62 0 0 0 864,729.5"/>
<path fill="none" stroke="#e08e0b" stroke-width="3" d="M632,740.0 A116,62 0 0 0 864,740.0"/>
<ellipse cx="748" cy="716" rx="116" ry="62" fill="#fdc52e"/>
<ellipse cx="748" cy="716" rx="92.8" ry="48.4" fill="#ffe066"/>
<text transform="translate(748,748.2) scale(1.25,0.62)" text-anchor="middle" font-size="140" font-weight="bold" fill="#f5b21a">$</text>
<path fill="#f2a71b" d="M695,962 L695,1082 A100,54 0 0 0 895,1082 L895,962 Z"/>
<path fill="none" stroke="#fdc52e" stroke-width="15.0" d="M695,1065.5 A100,54 0 0 0 895,1065.5"/>
<path fill="none" stroke="#e08e0b" stroke-width="3" d="M695,1076.0 A100,54 0 0 0 895,1076.0"/>
<path fill="none" stroke="#fdc52e" stroke-width="15.0" d="M695,1035.5 A100,54 0 0 0 895,1035.5"/>
<path fill="none" stroke="#e08e0b" stroke-width="3" d="M695,1046.0 A100,54 0 0 0 895,1046.0"/>
<path fill="none" stroke="#fdc52e" stroke-width="15.0" d="M695,1005.5 A100,54 0 0 0 895,1005.5"/>
<path fill="none" stroke="#e08e0b" stroke-width="3" d="M695,1016.0 A100,54 0 0 0 895,1016.0"/>
<path fill="none" stroke="#fdc52e" stroke-width="15.0" d="M695,975.5 A100,54 0 0 0 895,975.5"/>
<path fill="none" stroke="#e08e0b" stroke-width="3" d="M695,986.0 A100,54 0 0 0 895,986.0"/>
<ellipse cx="795" cy="962" rx="100" ry="54" fill="#fdc52e"/>
<ellipse cx="795" cy="962" rx="80.0" ry="42.1" fill="#ffe066"/>
<text transform="translate(795,990.1) scale(1.25,0.62)" text-anchor="middle" font-size="125" font-weight="bold" fill="#f5b21a">$</text>
<circle cx="622" cy="1012" r="112" fill="#f2a71b"/>
<circle cx="628" cy="1005" r="112" fill="#fdc52e"/>
<circle cx="628" cy="1005" r="88" fill="#ffe066"/>
<text transform="translate(628,1065) rotate(-12 0 -60)" text-anchor="middle" font-size="185" font-weight="bold" fill="#f5b21a">$</text>
</g>
</svg>
</body>
</html>
